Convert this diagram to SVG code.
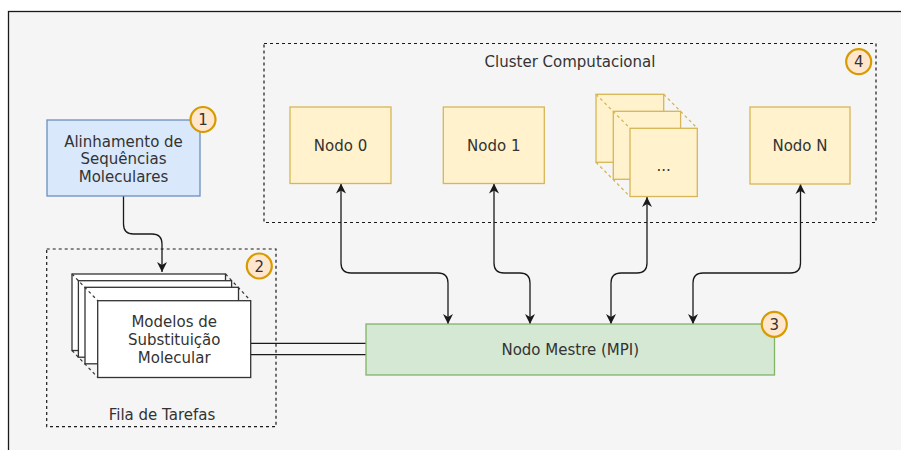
<svg xmlns="http://www.w3.org/2000/svg" width="901" height="450" viewBox="0 0 901 450">
<defs>
<style>
text{font-family:"DejaVu Sans","Verdana",sans-serif;font-size:15px;fill:#333;text-anchor:middle}
.dash{fill:none;stroke:#1a1a1a;stroke-width:1.2;stroke-dasharray:3 3}
.yel{fill:#fff2cc;stroke:#d6b656;stroke-width:1.3}
.yd{fill:none;stroke:#d6b656;stroke-width:1.3;stroke-dasharray:3 3}
.card{fill:#fff;stroke:#333;stroke-width:1.3}
.cd{fill:none;stroke:#333;stroke-width:1.2;stroke-dasharray:3 3}
.badge{fill:#ffe6cc;stroke:#d79b00;stroke-width:2.2}
.conn{fill:none;stroke:#1a1a1a;stroke-width:1.3}
</style>
<marker id="arr" markerUnits="userSpaceOnUse" markerWidth="12" markerHeight="12" viewBox="0 0 12 12" refX="11" refY="6" orient="auto-start-reverse">
<path d="M1,1 L11,6 L1,11 L4,6 Z" fill="#1a1a1a"/>
</marker>
</defs>
<rect x="0" y="0" width="901" height="450" fill="#fff"/>
<rect x="8.5" y="11.5" width="900" height="450" fill="#f5f5f5" stroke="#1a1a1a" stroke-width="1.3"/>

<g id="cluster">
<rect class="dash" x="264" y="43.5" width="612" height="179"/>
<text x="570" y="67">Cluster Computacional</text>
</g>
<g id="fila">
<rect class="dash" x="46.7" y="249" width="229.3" height="177.7"/>
<text x="162" y="419.5">Fila de Tarefas</text>
</g>

<g id="connectors">
<path class="conn" d="M123.5,196 V224 Q123.5,234 133.5,234 H152 Q162,234 162,244 V272" marker-end="url(#arr)"/>
<path class="conn" d="M341,183.5 V263 Q341,273 351,273 H438 Q448,273 448,283 V324" marker-start="url(#arr)" marker-end="url(#arr)"/>
<path class="conn" d="M494,183.5 V263 Q494,273 504,273 H520 Q530,273 530,283 V324" marker-start="url(#arr)" marker-end="url(#arr)"/>
<path class="conn" d="M647,197 V263 Q647,273 637,273 H621 Q611,273 611,283 V324" marker-start="url(#arr)" marker-end="url(#arr)"/>
<path class="conn" d="M800.5,184 V263 Q800.5,273 790.5,273 H703 Q693,273 693,283 V324" marker-start="url(#arr)" marker-end="url(#arr)"/>
<line class="conn" x1="251" y1="343.3" x2="366" y2="343.3"/>
<line class="conn" x1="251" y1="354.7" x2="366" y2="354.7"/>
</g>

<g id="alinhamento">
<rect x="47" y="120" width="153" height="76" fill="#dae8fc" stroke="#6c8ebf" stroke-width="1.3"/>
<text x="123.5" y="146.5">Alinhamento de</text>
<text x="123.5" y="164">Sequências</text>
<text x="123.5" y="182">Moleculares</text>
</g>

<g id="modelos">
<rect class="card" x="72" y="274" width="153.5" height="76.5"/>
<rect class="card" x="78.4" y="280.7" width="153.2" height="76.5"/>
<rect class="card" x="85" y="287.3" width="153.5" height="76.5"/>
<line class="cd" x1="72" y1="274" x2="97.7" y2="300.7"/>
<line class="cd" x1="225.5" y1="274" x2="250.7" y2="300.7"/>
<line class="cd" x1="72" y1="350.5" x2="97.7" y2="377.3"/>
<rect class="card" x="97.7" y="300.7" width="153" height="76.8"/>
<text x="174.2" y="327">Modelos de</text>
<text x="174.2" y="345">Substituição</text>
<text x="174.2" y="363">Molecular</text>
</g>

<g id="nodo0">
<rect class="yel" x="290" y="107" width="101" height="76.5"/>
<text x="340.5" y="150.5">Nodo 0</text>
</g>
<g id="nodo1">
<rect class="yel" x="443.3" y="107" width="101" height="76.5"/>
<text x="493.8" y="150.5">Nodo 1</text>
</g>
<g id="nodoEtc">
<rect class="yel" x="596" y="94.3" width="67.7" height="68"/>
<rect class="yel" x="613.3" y="111.3" width="67.3" height="68"/>
<line class="yd" x1="596" y1="94.3" x2="630" y2="128.3"/>
<line class="yd" x1="663.7" y1="94.3" x2="697.3" y2="128.3"/>
<line class="yd" x1="596" y1="162.3" x2="630" y2="196.5"/>
<rect class="yel" x="630" y="128.3" width="67.3" height="68.2"/>
<text x="663.6" y="171">...</text>
</g>
<g id="nodoN">
<rect class="yel" x="750" y="107" width="100" height="77"/>
<text x="800" y="150.5">Nodo N</text>
</g>

<g id="mestre">
<rect x="366" y="324" width="408.5" height="51" fill="#d5e8d4" stroke="#82b366" stroke-width="1.3"/>
<text x="570.3" y="355">Nodo Mestre (MPI)</text>
</g>

<g id="badge1"><circle class="badge" cx="203" cy="119.5" r="12.5"/><text x="203" y="125">1</text></g>
<g id="badge2"><circle class="badge" cx="259.3" cy="266" r="12.5"/><text x="259.3" y="271.5">2</text></g>
<g id="badge3"><circle class="badge" cx="774.3" cy="324.3" r="12.5"/><text x="774.3" y="329.8">3</text></g>
<g id="badge4"><circle class="badge" cx="858.7" cy="61.7" r="12.5"/><text x="858.7" y="67.2">4</text></g>
</svg>
